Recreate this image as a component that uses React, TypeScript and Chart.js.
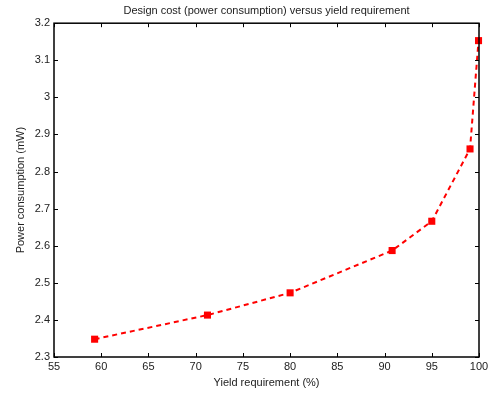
import React, { useEffect, useRef } from "react";
import { Chart, registerables } from "chart.js";

Chart.register(...registerables);

const yieldReq = [59.3, 71.25, 80.0, 90.8, 95.0, 99.05, 99.95];
const power = [2.348, 2.413, 2.473, 2.587, 2.666, 2.861, 3.153];
const xTicks = [55, 60, 65, 70, 75, 80, 85, 90, 95, 100];
const yTicks = [2.3, 2.4, 2.5, 2.6, 2.7, 2.8, 2.9, 3.0, 3.1, 3.2];

const FONT = "'Liberation Sans', Arial, Helvetica, sans-serif";

const boxTicks = {
  id: "boxTicks",
  afterDraw(chart: any) {
    const { ctx, chartArea: a } = chart;
    const xs = chart.scales.x;
    const ys = chart.scales.y;
    const L = 4;
    ctx.save();
    ctx.strokeStyle = "#000";
    ctx.lineWidth = 1;
    ctx.beginPath();
    for (const v of xTicks) {
      const px = Math.round(xs.getPixelForValue(v)) + 0.5;
      ctx.moveTo(px, a.bottom);
      ctx.lineTo(px, a.bottom - L);
      ctx.moveTo(px, a.top);
      ctx.lineTo(px, a.top + L);
    }
    for (const v of yTicks) {
      const py = Math.round(ys.getPixelForValue(v)) + 0.5;
      ctx.moveTo(a.left, py);
      ctx.lineTo(a.left + L, py);
      ctx.moveTo(a.right, py);
      ctx.lineTo(a.right - L, py);
    }
    ctx.stroke();
    ctx.lineWidth = 1.5;
    ctx.strokeRect(a.left, a.top, a.right - a.left, a.bottom - a.top);
    ctx.restore();
  },
};

export default function App() {
  const ref = useRef<HTMLCanvasElement>(null);
  useEffect(() => {
    document.body.style.margin = "0";
    const chart = new Chart(ref.current!, {
      type: "line",
      data: {
        datasets: [
          {
            data: yieldReq.map((x, i) => ({ x, y: power[i] })),
            borderColor: "#ff0000",
            backgroundColor: "#ff0000",
            borderWidth: 2,
            borderDash: [5, 4],
            pointStyle: "rect",
            pointRadius: 5,
            pointBorderWidth: 0,
            fill: false,
            tension: 0,
            clip: false as any,
          },
        ],
      },
      options: {
        animation: false,
        responsive: false,
        layout: { padding: { top: 0, right: 14, left: 0, bottom: 0 } },
        plugins: {
          legend: { display: false },
          tooltip: { enabled: false },
          title: {
            display: true,
            fullSize: false,
            text: "Design cost (power consumption) versus yield requirement",
            color: "#222",
            font: { family: FONT, size: 11, weight: "normal" },
            padding: { top: 4, bottom: 6 },
          },
        },
        scales: {
          x: {
            type: "linear",
            min: 55,
            max: 100,
            afterBuildTicks: (s: any) => {
              s.ticks = xTicks.map((v) => ({ value: v }));
            },
            afterFit: (s: any) => {
              s.height = 41;
            },
            grid: { display: false, drawTicks: false },
            border: { display: false },
            ticks: {
              color: "#222",
              font: { family: FONT, size: 11 },
              padding: 3,
              maxRotation: 0,
              autoSkip: false,
            },
            title: {
              display: true,
              text: "Yield requirement (%)",
              color: "#222",
              font: { family: FONT, size: 11 },
              padding: { top: 0, bottom: 8 },
            },
          },
          y: {
            type: "linear",
            min: 2.3,
            max: 3.2,
            afterBuildTicks: (s: any) => {
              s.ticks = yTicks.map((v) => ({ value: v }));
            },
            afterFit: (s: any) => {
              s.width = 54;
            },
            grid: { display: false, drawTicks: false },
            border: { display: false },
            ticks: {
              color: "#222",
              font: { family: FONT, size: 11 },
              padding: 4,
              autoSkip: false,
              callback: (v: any) => String(Math.round(Number(v) * 10) / 10),
            },
            title: {
              display: true,
              text: "Power consumption (mW)",
              color: "#222",
              font: { family: FONT, size: 11 },
              padding: { top: 14, bottom: 0 },
            },
          },
        },
      },
      plugins: [boxTicks],
    });
    return () => chart.destroy();
  }, []);
  return (
    <div style={{ width: 493, height: 398 }}>
      <canvas ref={ref} width={493} height={398} />
    </div>
  );
}
